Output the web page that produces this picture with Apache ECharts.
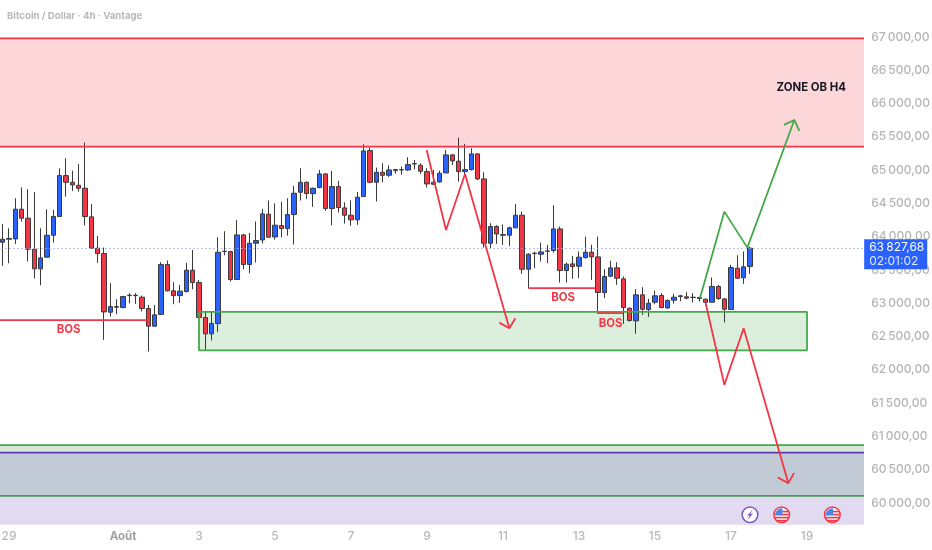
<!DOCTYPE html>
<html>
<head>
<meta charset="utf-8">
<style>html,body{margin:0;padding:0;background:#fff}#c{width:932px;height:550px}</style>
<script src="https://cdn.jsdelivr.net/npm/echarts@6/dist/echarts.min.js"></script>
</head>
<body>
<div id="c"></div>
<script>
const titleText = 'Bitcoin / Dollar · 4h · Vantage';
const priceTicks = [60000,60500,61000,61500,62000,62500,63000,63500,64000,64500,65000,65500,66000,66500,67000];
const tickLabels = {'07-29 00':'29','08-01 00':'Août','08-03 00':'3','08-05 00':'5','08-07 00':'7','08-09 00':'9','08-11 00':'11','08-13 00':'13','08-15 00':'15','08-17 00':'17','08-19 00':'19'};
const opens = [63917,63962,63967,64413,64278,63812,63517,63692,64022,64303,
64918,64818,64773,64728,64298,63827,63747,62866,62941,62936,
63116,63116,63091,62921,62656,62831,63582,63187,63116,63177,
63497,63312,62786,62541,62696,63777,63777,63357,64027,63582,
63902,63952,64338,63997,64168,64123,64333,64668,64818,64648,
64738,64943,64423,64753,64433,64323,64253,64603,65294,64818,
64968,64923,65008,65003,65003,65093,65073,64978,64788,64823,
64958,65229,65134,64978,65008,65244,64868,63902,64153,64022,
64022,64133,64323,63512,63747,63737,63782,63792,64117,63492,
63592,63557,63687,63767,63697,63162,63407,63532,63367,62926,
62736,63127,62906,63016,63117,62931,63046,63102,63097,63087,
63071,63061,63016,63252,63066,62906,63527,63382,63552];
const closes = [63962,63972,64413,64278,63812,63517,63682,64022,64303,64918,
64818,64778,64728,64303,63827,63747,62871,62951,62951,63101,
63121,63121,62921,62656,62826,63582,63187,63116,63182,63497,
63312,62786,62541,62696,63767,63782,63357,64027,63582,63902,
63942,64343,63992,64173,64123,64333,64653,64818,64648,64728,
64943,64423,64753,64438,64323,64253,64593,65289,64818,64968,
64923,65003,64993,65008,65083,65098,64983,64793,64818,64953,
65229,65139,64978,65008,65244,64868,63902,64153,64042,64032,
64133,64323,63512,63737,63752,63772,63787,64117,63492,63587,
63552,63692,63767,63697,63162,63402,63532,63377,62936,62741,
63127,62911,63001,63112,62936,63041,63091,63112,63077,63091,
63087,63016,63252,63071,62911,63537,63377,63547,63827.68];
const lows = [63562,63602,63892,64228,63627,63372,63272,63692,63912,64303,
64603,64688,64678,64168,63827,63607,62451,62801,62836,62926,
63001,62991,62876,62276,62656,62831,63177,62986,63006,63162,
63212,62786,62291,62441,62566,63722,63327,63357,63512,63452,
63612,63902,63992,63957,63992,64017,63882,64543,64568,64448,
64728,64388,64173,64363,64198,64163,64178,64603,64803,64528,
64818,64898,64948,64933,64988,65013,64943,64738,64778,64813,
64958,65078,64828,64928,64993,64853,63837,63827,63892,63877,
63862,64133,63442,63227,63527,63627,63602,63762,63312,63312,
63367,63377,63672,63352,62841,63077,63392,63277,62691,62726,
62541,62826,62796,62986,62926,62916,62996,63031,63061,63011,
63026,62961,63016,63051,62711,62906,63362,63292,63442];
const highs = [64193,64127,64578,64743,64713,64668,64127,64413,64403,65028,
65179,64993,65093,65414,64493,64012,63837,63302,63061,63111,
63152,63152,63116,62976,62976,63617,63642,63317,63277,63607,
63802,63352,62871,62871,63992,64082,63777,64248,64042,64057,
64228,64418,64543,64503,64523,64578,64763,65028,64828,64738,
65003,64953,64988,64838,64518,64548,64673,65389,65339,65038,
65103,65073,65018,65053,65194,65153,65103,65028,65003,64993,
65304,65244,65489,65394,65329,65254,64968,64203,64173,64183,
64153,64493,64378,63752,63777,63912,63877,64473,64153,63612,
63712,63777,64002,63877,64002,63512,63637,63617,63402,62936,
63212,63242,63066,63192,63152,63061,63142,63127,63167,63152,
63097,63071,63387,63277,63077,63577,63722,63777,63850];
const lastPrice = 63827.68;
const countdown = '02:01:02';

// zones: from/to are bar positions, top/bottom are prices
const zoneFrom = [0,32,0,0,0];
const zoneTo = [137,128,137,137,137];
const zoneTop = [66980,62871,60869,60758,60108];
const zoneBottom = [65353,62293,60758,60108,59673];
const zoneFill = ['#fcd6d9','#dcefdc','#d6e8da','#c2cad6','#e2daf0'];

// drawn lines: [bar position, price]
const redTop = [[0,66980],[137,66980]];
const redBottom = [[0,65353],[137,65353]];
const greenBox = [[32,62871],[128,62871],[128,62293],[32,62293],[32,62871]];
const lowerGreenA = [[0,60869],[137,60869]];
const lowerPurple = [[0,60758],[137,60758]];
const lowerGreenB = [[0,60108],[137,60108]];
const bosA = [[0,62746],[24,62746]];
const bosB = [[84,63227],[94.6,63227]];
const bosC = [[94.9,62851],[98.95,62851]];
const redArrowA = [[67.95,65303],[71,64102],[74,64943],[81,62626]];
const redHeadA = [[79.42,62710],[81,62626],[81.95,62776]];
const redArrowB = [[112,63001],[114.95,61775],[118,62626],[125.05,60299]];
const redHeadB = [[123.38,60383],[125.05,60299],[125.95,60449]];
const greenArrow = [[111.1,63077],[114.95,64377],[118.58,63836],[126,65754]];
const greenHead = [[124.37,65679],[126,65754],[126.79,65589]];

// text notes
const noteText = ['BOS','BOS','BOS','ZONE OB H4'];
const noteX = [11.4,89.5,97,128.68];
const notePrice = [62600,63081,62691,66245];
const noteColor = ['#f23645','#f23645','#f23645','#131722'];

// event icons
const eventKind = ['flash','flag','flag'];
const eventX = [119,124,132];
const eventPrice = [59823,59823,59823];

const RED='#f23645', GREEN='#43a84a';
const start = Date.UTC(2024,6,28,16);
const categories = [];
for (let j=0;j<138;j++){
  const d = new Date(start + j*4*3600*1000);
  const p = n => String(n).padStart(2,'0');
  categories.push(p(d.getUTCMonth()+1)+'-'+p(d.getUTCDate())+' '+p(d.getUTCHours()));
}
const candleData = opens.map((o,i)=>[i+1,o,closes[i],lows[i],highs[i]]);
const fmtPrice = v => { const s=Math.round(v)+''; return s.slice(0,-3)+'\u2009'+s.slice(-3)+',00'; };
const line = (data,color,width,z) => ({type:'line',xAxisIndex:1,yAxisIndex:0,data,symbol:'none',silent:true,animation:false,z:z||5,
  lineStyle:{color,width},itemStyle:{color}});

const chart = echarts.init(document.getElementById('c'));
chart.setOption({
  animation:false,
  backgroundColor:'#ffffff',
  title:{text:titleText,left:2,top:6,textStyle:{fontFamily:'Inter',fontSize:9.6,fontWeight:700,color:'#b8b8b8'}},
  grid:{left:-6.83,top:3.7,width:874,height:532.6,containLabel:false,outerBoundsMode:'none'},
  xAxis:[
    {type:'category',data:categories,boundaryGap:true,axisLine:{show:false},axisTick:{show:false},splitLine:{show:false},
     axisLabel:{interval:(i,v)=>tickLabels[v]!==undefined,formatter:v=>{const t=tickLabels[v]||'';return t==='Août'?'{b|'+t+'}':t;},
       color:'#b8b8b8',fontFamily:'Inter',fontSize:12,fontWeight:500,margin:-6,
       rich:{b:{color:'#a0a0a0',fontFamily:'Inter',fontSize:11.5,fontWeight:700}}}},
    {type:'value',min:-0.5,max:137.5,show:false,splitLine:{show:false}}
  ],
  yAxis:{type:'value',position:'right',min:59500,max:67500,interval:500,axisLine:{show:false},axisTick:{show:false},
    splitLine:{show:false},
    axisLabel:{margin:4,color:'#b5b5b5',fontFamily:'Inter',fontSize:12,fontWeight:500,
      formatter:v=>priceTicks.includes(v)?fmtPrice(v):''}},
  series:[
    {type:'custom',xAxisIndex:1,yAxisIndex:0,z:1,silent:true,animation:false,clip:true,
     data:zoneFrom.map((f,i)=>[f,zoneTo[i],zoneTop[i],zoneBottom[i]]),
     encode:{x:[0,1],y:[2,3]},
     renderItem:(params,api)=>{
       const a=api.coord([api.value(0),api.value(2)]), b=api.coord([api.value(1),api.value(3)]);
       return {type:'rect',shape:{x:a[0],y:a[1],width:b[0]-a[0],height:b[1]-a[1]},style:{fill:zoneFill[params.dataIndex]}};
     }},
    {type:'candlestick',xAxisIndex:0,yAxisIndex:0,data:candleData,encode:{x:0,y:[1,2,3,4]},barWidth:5,z:3,silent:true,animation:false,
     itemStyle:{color:'#2962ff',color0:'#f23645',borderColor:'#3a3a3a',borderColor0:'#3a3a3a',borderWidth:1},
     markLine:{silent:true,animation:false,symbol:'none',precision:2,
       lineStyle:{color:'#a3aef0',type:[1.5,2.5],width:1},
       label:{show:true,position:'end',distance:-3,offset:[0,6],backgroundColor:'#2962ff',padding:[1,3,1,5],lineHeight:14,
         formatter:()=>'{a|'+'63\u2009827,68'+'}\n{b|'+countdown+'}',
         rich:{a:{color:'#fff',fontFamily:'Inter',fontSize:12,lineHeight:14},b:{color:'#dfe7ff',fontFamily:'Inter',fontSize:12,lineHeight:14}}},
       data:[{yAxis:lastPrice}]}},
    line(redTop,RED,1.7),line(redBottom,RED,1.7),line(greenBox,GREEN,1.8),
    line(lowerGreenA,GREEN,1.6),line(lowerPurple,'#5e35b1',1.7),line(lowerGreenB,'#4f9a5c',1.7),
    line(bosA,RED,1.8),line(bosB,RED,1.8),line(bosC,RED,1.8),
    line(redArrowA,RED,1.8),line(redHeadA,RED,1.8),line(redArrowB,RED,1.8),line(redHeadB,RED,1.8),
    line(greenArrow,GREEN,1.8),line(greenHead,GREEN,1.8),
    {type:'custom',xAxisIndex:1,yAxisIndex:0,z:6,silent:true,animation:false,clip:false,
     data:noteX.map((x,i)=>[x,notePrice[i]]),encode:{x:0,y:1},
     renderItem:(params,api)=>{
       const p=api.coord([api.value(0),api.value(1)]), i=params.dataIndex;
       return {type:'text',style:{x:p[0],y:p[1],text:noteText[i],fill:noteColor[i],align:'center',verticalAlign:'middle',
         font:'700 11.4px Inter'}};
     }},
    {type:'custom',xAxisIndex:1,yAxisIndex:0,z:6,silent:true,animation:false,clip:false,
     data:eventX.map((x,i)=>[x,eventPrice[i]]),encode:{x:0,y:1},
     renderItem:(params,api)=>{
       const p=api.coord([api.value(0),api.value(1)]), cx=p[0], cy=p[1], kind=eventKind[params.dataIndex];
       if(kind==='flash'){
         return {type:'group',children:[
           {type:'circle',shape:{cx,cy,r:7.8},style:{fill:'#fff',stroke:'#7e57c2',lineWidth:1.5}},
           {type:'polygon',shape:{points:[[cx+2.6,cy-5],[cx-3,cy+1],[cx-0.4,cy+0.6],[cx-2.4,cy+5],[cx+3.2,cy-1.2],[cx+0.4,cy-0.8]]},style:{fill:'#7e57c2'}}
         ]};
       }
       const stripes=[];
       [[-1,7],[2,7.4],[5,5.6]].forEach(s=>stripes.push({type:'rect',shape:{x:cx-s[1],y:cy+s[0],width:2*s[1],height:1.6},style:{fill:'#f23645'}}));
       return {type:'group',children:[
         {type:'circle',shape:{cx,cy,r:7.8},style:{fill:'#fff',stroke:'#f23645',lineWidth:1.5}},
         {type:'rect',shape:{x:cx+0.5,y:cy-4,width:6,height:1.6},style:{fill:'#f23645'}},
         ...stripes,
         {type:'path',shape:{pathData:'M '+(cx-6.4)+' '+(cy+0.5)+' A 6.6 6.6 0 0 1 '+(cx+0.8)+' '+(cy-6.5)+' L '+(cx+0.8)+' '+(cy+0.5)+' Z'},style:{fill:'#4a86e8'}}
       ]};
     }}
  ]
});
</script>
</body>
</html>
